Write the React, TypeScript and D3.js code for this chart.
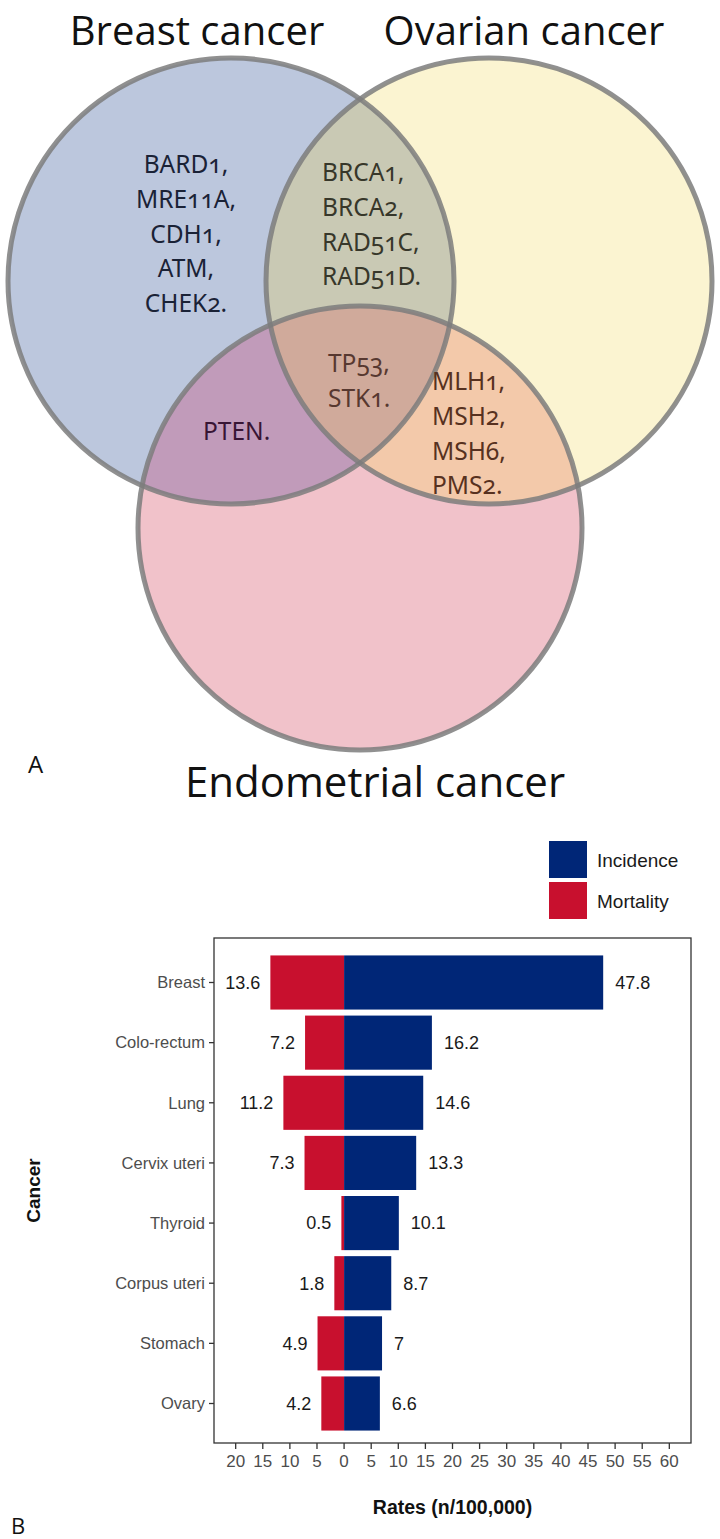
import React from 'react';
import * as d3 from 'd3';

// ---------- Panel A data (Venn) ----------
const vennTitles = ['Breast cancer', 'Ovarian cancer', 'Endometrial cancer'];
const breastOnlyGenes = ['BARD1,', 'MRE11A,', 'CDH1,', 'ATM,', 'CHEK2.'];
const breastOvarianGenes = ['BRCA1,', 'BRCA2,', 'RAD51C,', 'RAD51D.'];
const allThreeGenes = ['TP53,', 'STK1.'];
const breastEndometrialGenes = ['PTEN.'];
const ovarianEndometrialGenes = ['MLH1,', 'MSH2,', 'MSH6,', 'PMS2.'];

// ---------- Panel B data (bar chart) ----------
const cancers = ['Breast', 'Colo-rectum', 'Lung', 'Cervix uteri', 'Thyroid', 'Corpus uteri', 'Stomach', 'Ovary'];
const incidence = [47.8, 16.2, 14.6, 13.3, 10.1, 8.7, 7, 6.6];
const mortality = [13.6, 7.2, 11.2, 7.3, 0.5, 1.8, 4.9, 4.2];
const seriesNames = ['Incidence', 'Mortality'];
const xTickValues = [-20, -15, -10, -5, 0, 5, 10, 15, 20, 25, 30, 35, 40, 45, 50, 55, 60];

// ---------- layout ----------
const W = 720;
const H = 1539;
const circles = [
  { cx: 231, cy: 281, r: 223, fill: '#bcc7dd' },
  { cx: 489, cy: 281, r: 223, fill: '#fbf4d1' },
  { cx: 360, cy: 528, r: 222, fill: '#f1c2ca' },
];
const fillLR = '#c9c9b4';
const fillLB = '#c19bba';
const fillRB = '#f3c9aa';
const fillLRB = '#d0aa9b';

const geneFont = "'Noto Sans', 'Open Sans', sans-serif";
const titleFont = "'Open Sans', 'Noto Sans', sans-serif";
const chartFont = "'Liberation Sans', Arial, sans-serif";

const panel = { left: 214, right: 691, top: 938, bottom: 1443 };
const INC = '#002677';
const MORT = '#c8102e';

function GeneBlock({ genes, x, y0, anchor, color }: { genes: string[]; x: number; y0: number; anchor: string; color: string }) {
  return (
    <g>
      {genes.map((g, i) => (
        <text key={g} x={x} y={y0 + i * 34.8} textAnchor={anchor as any} fill={color}
          style={{ fontFamily: geneFont, fontSize: 24.5, fontVariantNumeric: 'oldstyle-nums' }}>{g}</text>
      ))}
    </g>
  );
}

export default function App() {
  const x = d3.scaleLinear().domain([-24, 64]).range([panel.left, panel.right]);
  const y = d3.scaleBand<string>().domain(cancers).range([panel.top + 3, panel.bottom + 2]).paddingInner(0.1).paddingOuter(0.24);
  const bw = y.bandwidth();
  const [L, R, B] = circles;

  return (
    <svg width={W} height={H} style={{ position: 'absolute', left: 0, top: 0, background: '#fff' }}>
      <defs>
        <clipPath id="clipL"><circle cx={L.cx} cy={L.cy} r={L.r} /></clipPath>
        <clipPath id="clipR"><circle cx={R.cx} cy={R.cy} r={R.r} /></clipPath>
      </defs>
      {/* Venn fills */}
      {circles.map((c, i) => <circle key={i} cx={c.cx} cy={c.cy} r={c.r} fill={c.fill} />)}
      <circle cx={R.cx} cy={R.cy} r={R.r} fill={fillLR} clipPath="url(#clipL)" />
      <circle cx={B.cx} cy={B.cy} r={B.r} fill={fillLB} clipPath="url(#clipL)" />
      <circle cx={B.cx} cy={B.cy} r={B.r} fill={fillRB} clipPath="url(#clipR)" />
      <g clipPath="url(#clipR)">
        <circle cx={B.cx} cy={B.cy} r={B.r} fill={fillLRB} clipPath="url(#clipL)" />
      </g>
      {circles.map((c, i) => (
        <circle key={'s' + i} cx={c.cx} cy={c.cy} r={c.r} fill="none" stroke="#7d7d7d" strokeOpacity={0.85} strokeWidth={5} />
      ))}
      {/* Venn titles */}
      <text x={197} y={45} textAnchor="middle" fill="#111" style={{ fontFamily: titleFont, fontSize: 40 }}>{vennTitles[0]}</text>
      <text x={524} y={45} textAnchor="middle" fill="#111" style={{ fontFamily: titleFont, fontSize: 40 }}>{vennTitles[1]}</text>
      <text x={375} y={797} textAnchor="middle" fill="#111" style={{ fontFamily: titleFont, fontSize: 42 }}>{vennTitles[2]}</text>
      <text x={28} y={773} fill="#111" style={{ fontFamily: titleFont, fontSize: 24 }}>A</text>
      {/* genes */}
      <GeneBlock genes={breastOnlyGenes} x={186} y0={173} anchor="middle" color="#1a2236" />
      <GeneBlock genes={breastOvarianGenes} x={322} y0={181} anchor="start" color="#37372a" />
      <GeneBlock genes={allThreeGenes} x={328} y0={372} anchor="start" color="#573830" />
      <GeneBlock genes={breastEndometrialGenes} x={203} y0={440} anchor="start" color="#381534" />
      <GeneBlock genes={ovarianEndometrialGenes} x={432} y0={390} anchor="start" color="#573120" />

      {/* ---------- Panel B ---------- */}
      {/* legend */}
      {seriesNames.map((s, i) => (
        <g key={s}>
          <rect x={549} y={841 + i * 41} width={38} height={37} fill={i === 0 ? INC : MORT} />
          <text x={597} y={860 + i * 41} dy="0.35em" fill="#1a1a1a" style={{ fontFamily: chartFont, fontSize: 19 }}>{s}</text>
        </g>
      ))}
      {/* bars */}
      {cancers.map((c, i) => (
        <g key={c}>
          <rect x={x(-mortality[i])} y={y(c)!} width={x(0) - x(-mortality[i])} height={bw} fill={MORT} />
          <rect x={x(0)} y={y(c)!} width={x(incidence[i]) - x(0)} height={bw} fill={INC} />
          <text x={x(incidence[i]) + 12} y={y(c)! + bw / 2} dy="0.35em" fill="#1a1a1a"
            style={{ fontFamily: chartFont, fontSize: 18 }}>{String(incidence[i])}</text>
          <text x={x(-mortality[i]) - 10} y={y(c)! + bw / 2} dy="0.35em" textAnchor="end" fill="#1a1a1a"
            style={{ fontFamily: chartFont, fontSize: 18 }}>{String(mortality[i])}</text>
        </g>
      ))}
      {/* panel border */}
      <rect x={panel.left} y={panel.top} width={panel.right - panel.left} height={panel.bottom - panel.top}
        fill="none" stroke="#333" strokeWidth={1.3} />
      {/* y axis */}
      {cancers.map((c) => (
        <g key={'yt' + c}>
          <line x1={panel.left - 5} x2={panel.left} y1={y(c)! + bw / 2} y2={y(c)! + bw / 2} stroke="#333" strokeWidth={1.3} />
          <text x={panel.left - 9} y={y(c)! + bw / 2} dy="0.35em" textAnchor="end" fill="#4d4d4d"
            style={{ fontFamily: chartFont, fontSize: 16.5 }}>{c}</text>
        </g>
      ))}
      {/* x axis */}
      {xTickValues.map((t) => (
        <g key={'xt' + t}>
          <line x1={x(t)} x2={x(t)} y1={panel.bottom} y2={panel.bottom + 6} stroke="#333" strokeWidth={1.3} />
          <text x={x(t)} y={panel.bottom + 24} textAnchor="middle" fill="#4d4d4d"
            style={{ fontFamily: chartFont, fontSize: 17 }}>{String(Math.abs(t))}</text>
        </g>
      ))}
      <text x={(panel.left + panel.right) / 2} y={1514} textAnchor="middle" fill="#111"
        style={{ fontFamily: chartFont, fontSize: 19.5, fontWeight: 'bold' }}>Rates (n/100,000)</text>
      <text transform={`translate(40,${(panel.top + panel.bottom) / 2}) rotate(-90)`} textAnchor="middle" fill="#111"
        style={{ fontFamily: chartFont, fontSize: 19, fontWeight: 'bold' }}>Cancer</text>
      <text x={11} y={1534} fill="#111" style={{ fontFamily: titleFont, fontSize: 22 }}>B</text>
    </svg>
  );
}
